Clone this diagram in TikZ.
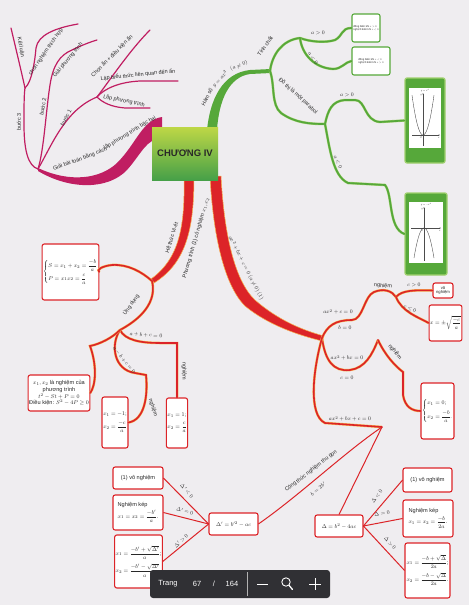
\documentclass[tikz,border=0pt]{standalone}
\usepackage{fontspec}
\setmainfont{Liberation Sans}
\usepackage{amsmath}
\usetikzlibrary{arrows.meta}
\definecolor{bgc}{RGB}{239,237,240}
\definecolor{magc}{RGB}{192,30,98}
\definecolor{redc}{RGB}{220,36,40}
\definecolor{halo}{RGB}{247,178,80}
\definecolor{grn}{RGB}{86,168,58}
\definecolor{grnl}{RGB}{160,208,110}
\definecolor{tbar}{RGB}{48,48,52}
\definecolor{txt}{RGB}{40,40,40}
\definecolor{gtop}{RGB}{190,215,70}
\definecolor{gbot}{RGB}{70,160,72}
\begin{document}
\begin{tikzpicture}[x=1pt,y=-1pt,
  mline/.style={draw=magc, line width=1.2pt, line cap=round},
  rline/.style={draw=redc, line width=1.6pt, line cap=round, preaction={draw=halo, line width=2.5pt}},
  gline/.style={draw=grn, line width=1.7pt, line cap=round, preaction={draw=grnl, line width=2.5pt}},
  tline/.style={draw=redc, line width=1pt},
  lab/.style={font=\fontsize{8}{9.6}\selectfont, scale=0.68, text=txt, inner sep=0.5pt},
  rbox/.style={draw=redc, line width=1.1pt, fill=white, rounded corners=2.2pt, inner sep=1.5pt, scale=0.7,
     font=\fontsize{8}{9.6}\selectfont, text=txt, align=center},
  gtbox/.style={draw=grn, line width=1.1pt, fill=white, rounded corners=2pt, inner sep=0pt},
  gfr/.style={draw=grnl, line width=1.2pt, fill=grn, rounded corners=2pt, inner sep=0pt},
  tiny/.style={font=\fontsize{8}{8.5}\selectfont, scale=0.33, inner sep=0pt, text=txt},
  tb/.style={font=\fontsize{7.5}{8}\selectfont, text=white, inner sep=0pt}]
\fill[bgc] (0,0) rectangle (469,605);
\useasboundingbox (0,0) rectangle (469,605);

% ---------------- boxes ----------------
\node[rbox, minimum width=1.43*41pt, minimum height=1.43*56pt] (sp) at (70.5,272)
  {$\left\{\begin{array}{@{}l@{}} S=x_1+x_2=\dfrac{-b}{a}\\[6pt] P=x_1x_2=\dfrac{c}{a}\end{array}\right.$};
\node[rbox, minimum width=1.43*58pt, minimum height=1.43*36pt] (xb) at (59,393)
  {$x_1,x_2$ là nghiệm của\\phương trình\\$t^2-St+P=0$\\Điều kiện: $S^2-4P\ge 0$};
\node[rbox, minimum width=1.43*26pt, minimum height=1.43*51pt, align=left] (mb1) at (115,422.5)
  {$x_1=-1;$\\[5pt]$x_2=\dfrac{-c}{a}$};
\node[rbox, minimum width=1.43*21pt, minimum height=1.43*50pt, align=left] (pb1) at (177,423)
  {$x_1=1;$\\[5pt]$x_2=\dfrac{c}{a}$};
\node[rbox, minimum width=1.43*20pt, minimum height=1.43*15pt, font=\fontsize{6}{6.4}\selectfont] (vn) at (443,290.5) {vô\\nghiệm};
\node[rbox, minimum width=1.43*25pt, minimum height=1.43*36pt] (sq) at (445.5,323) {$x=\pm\sqrt{\dfrac{-c}{a}}$};
\node[rbox, minimum width=1.43*31pt, minimum height=1.43*56pt] (x0) at (437.5,411)
  {$\left\{\begin{array}{@{}l@{}} x_1=0;\\[6pt] x_2=\dfrac{-b}{a}.\end{array}\right.$};
\node[rbox, minimum width=1.43*48pt, minimum height=1.43*22pt] (db) at (339,526) {$\Delta=b^2-4ac$};
\node[rbox, minimum width=1.43*49pt, minimum height=1.43*24pt] (d1) at (427.5,480) {(1) vô nghiệm};
\node[rbox, minimum width=1.43*50pt, minimum height=1.43*37pt, align=left] (d2) at (428,518.5)
  {Nghiệm kép\\[2pt]$x_1=x_2=\dfrac{-b}{2a}$.};
\node[rbox, minimum width=1.43*45pt, minimum height=1.43*55pt, align=left] (d3) at (427.5,570.5)
  {$x_1=\dfrac{-b+\sqrt{\Delta}}{2a}$;\\[5pt]$x_2=\dfrac{-b-\sqrt{\Delta}}{2a}$.};
\node[rbox, minimum width=1.43*49pt, minimum height=1.43*22pt] (dpb) at (233.5,524) {$\Delta'=b'^2-ac$};
\node[rbox, minimum width=1.43*50pt, minimum height=1.43*22pt] (q1) at (138,478) {(1) vô nghiệm};
\node[rbox, minimum width=1.43*50pt, minimum height=1.43*35pt, align=left] (q2) at (138,512.5)
  {Nghiệm kép\\[2pt]$x_1=x_2=\dfrac{-b'}{a}$.};
\node[rbox, minimum width=1.43*45pt, minimum height=1.43*53pt, align=left] (q3) at (138.5,561.5)
  {$x_1=\dfrac{-b'+\sqrt{\Delta'}}{a}$;\\[5pt]$x_2=\dfrac{-b'-\sqrt{\Delta'}}{a}$.};
\node[gtbox, minimum width=28pt, minimum height=28pt] (t1) at (366,28) {};
\node[tiny, align=left] (t1t) at (t1.center) {đồng biến khi $x>0$\\[2pt]nghịch biến khi $x<0$};
\node[gtbox, minimum width=38pt, minimum height=28pt] (t2) at (371,61) {};
\node[tiny, align=left] (t2t) at (t2.center) {đồng biến khi $x<0$\\[2pt]nghịch biến khi $x>0$};

% graph boxes
\node[gfr, minimum width=40pt, minimum height=85pt] (gb1) at (425,120.5) {};
\fill[white] (409,88) rectangle (441,148);
\draw[black!70, line width=0.3pt, -{Stealth[length=1.5pt]}] (412,135) -- (440,135);
\draw[black!70, line width=0.3pt, -{Stealth[length=1.5pt]}] (423,146) -- (423,93);
\draw[black!75, line width=0.35pt, domain=-11:11, samples=40, smooth] plot ({423+\x},{135-0.33*\x*\x});
\node[tiny] (g1a) at (425,90.5) {$y=x^2$};
\node[tiny] (g1b) at (421,95) {$y$};
\node[tiny] (g1c) at (439,138) {$x$};
\node[tiny] (g1d) at (421,138) {$O$};

\node[gfr, minimum width=42pt, minimum height=82pt] (gb2) at (426,234) {};
\fill[white] (409,202) rectangle (443,263);
\draw[black!70, line width=0.3pt, -{Stealth[length=1.5pt]}] (411,228) -- (441,228);
\draw[black!70, line width=0.3pt, -{Stealth[length=1.5pt]}] (424,261) -- (424,207);
\draw[black!75, line width=0.35pt, domain=-10:10, samples=40, smooth] plot ({424+\x},{228+0.3*\x*\x});
\node[tiny] (g2a) at (426,204.5) {$y=-x^2$};
\node[tiny] (g2b) at (422,209) {$y$};
\node[tiny] (g2c) at (440,231) {$x$};
\node[tiny] (g2d) at (422,231) {$O$};

% ---------------- magenta branch ----------------
\fill[magc] (162,117) .. controls (142,120) and (137,143) .. (117,163) .. controls (100,179) and (70,183) .. (38,168)
  -- (38,171) .. controls (70,190) and (108,190) .. (127,170) .. controls (142,153) and (146,139) .. (162,138) -- cycle;
\coordinate (m0) at (38,169);
\coordinate (m3) at (25,88);
\coordinate (m1) at (97,97);
\draw[mline] (m0) .. controls (28,166) and (24,150) .. (24,125) .. controls (24,105) and (24,95) .. (m3);
\draw[mline] (m3) .. controls (21,70) and (15,45) .. (11,28);
\draw[mline] (m3) .. controls (32,82) and (35,60) .. (36,48) .. controls (38,35) and (55,28) .. (78,24);
\draw[mline] (m0) .. controls (44,150) and (46,110) .. (50,85) .. controls (53,65) and (60,55) .. (72,50) .. controls (80,46) and (90,42) .. (97,40);
\draw[mline] (m0) .. controls (52,145) and (65,110) .. (m1);
\draw[mline] (m1) .. controls (110,80) and (130,50) .. (150,30);
\draw[mline] (m1) .. controls (105,88) and (120,82) .. (140,81) -- (178,81);
\draw[mline] (m1) .. controls (103,103) and (112,107) .. (125,108) -- (150,108);

\node[lab, rotate=20] (lg) at (80,159) {Giải bài toán bằng cách};
\node[lab, rotate=31] (lg2) at (130,133) {lập phương trình bậc hai};
\node[lab, rotate=90] (lb3) at (19,122) {bước 3};
\node[lab, rotate=-80] (lkl) at (21,47) {Kết luận};
\node[lab, rotate=55] (lcn) at (46,52) {chọn nghiệm thích hợp};
\node[lab, rotate=80] (lb2) at (43,107) {bước 2};
\node[lab, rotate=50] (lgpt) at (68,60) {Giải phương trình};
\node[lab, rotate=62] (lb1) at (66,118) {bước 1};
\node[lab, rotate=45] (lca) at (112,56) {Chọn ẩn + điều kiện ẩn};
\node[lab, rotate=6] (llb) at (138,75) {Lập biểu thức liên quan đến ẩn};
\node[lab, rotate=-12] (llp) at (124,101) {Lập phương trình};

% ---------------- green branch ----------------
\fill[grn] (207,130) .. controls (210,100) and (222,73) .. (250,70) -- (271,69) -- (271,73) -- (250,74)
  .. controls (229,77) and (219,100) .. (217,130) -- cycle;
\coordinate (g0) at (270,71);
\coordinate (gt) at (300,38);
\coordinate (gd) at (325,124);
\draw[gline] (g0) .. controls (272,55) and (282,40) .. (gt);
\draw[gline] (g0) .. controls (275,85) and (271,105) .. (281,113) .. controls (295,123) and (310,124) .. (gd);
\draw[gline] (gt) .. controls (310,42) and (326,43) .. (335,40) .. controls (343,36) and (341,28) .. (t1.west);
\draw[gline] (gt) .. controls (302,55) and (315,68) .. (333,69) .. controls (342,69) and (345,62) .. (t2.west);
\draw[gline] (gd) .. controls (328,110) and (332,101) .. (345,100) -- (355,100) .. controls (366,100) and (364,121) .. (380,122) -- (gb1.west);
\draw[gline] (gd) .. controls (330,150) and (333,176) .. (348,183) -- (385,185) .. controls (393,195) and (388,228) .. (gb2.west);

\node[lab, rotate=63] (lhs) at (207,97) {Hàm số};
\node[lab, rotate=47] (lhs2) at (220,79) {$y=ax^2$};
\node[lab, rotate=20] (lhs3) at (239,66) {$(a\neq 0)$};
\node[lab, rotate=55] (ltc) at (265,46) {Tính chất};
\node[lab, rotate=-42] (ldt) at (298,96) {Đồ thị là một parabol};
\node[lab] (la1) at (318,33) {$a>0$};
\node[lab, rotate=-55] (la2) at (313,58) {$a<0$};
\node[lab] (la3) at (347,95) {$a>0$};
\node[lab, rotate=-65] (la4) at (338,162) {$a<0$};

% ---------------- red branches ----------------
\fill[redc, draw=halo, line width=0.5pt] (184,176) -- (194,176) .. controls (194,225) and (188,262) .. (154,283)
  -- (151,279) .. controls (180,258) and (185,225) .. (184,176) -- cycle;
\coordinate (r1) at (152,281);
\coordinate (r2) at (120,330);
\draw[rline] (r1) .. controls (142,272) and (128,264) .. (112,265) .. controls (102,266) and (96,270) .. (sp.east);
\draw[rline] (r1) .. controls (156,297) and (148,315) .. (r2);
\draw[rline] (r2) .. controls (125,340) and (140,343) .. (160,343) -- (177,343) -- (pb1.north);
\draw[rline] (r2) .. controls (110,345) and (114,370) .. (135,373) -- (146,375) .. controls (148,395) and (145,420) .. (mb1.east);
\draw[rline] (r2) .. controls (112,338) and (100,344) .. (90,346) .. controls (97,365) and (96,385) .. (xb.east);

\node[lab, rotate=73] (lhv) at (172,238) {Hệ thức Vi-ét};
\node[lab, rotate=74] (lpt) at (196,238) {Phương trình (1) có nghiệm $x_1, x_2$};
\node[lab, rotate=55] (lud) at (131,305) {Ứng dụng};
\node[lab, rotate=-5] (lab1) at (146,335) {$a+b+c=0$};
\node[lab, rotate=-52] (lab2) at (124,360) {$a-b+c=0$};
\node[lab, rotate=-90] (ln1) at (184,371) {nghiệm};
\node[lab, rotate=-72] (ln2) at (153,408) {nghiệm};

\fill[redc, draw=halo, line width=0.5pt] (210,176) -- (221,176) .. controls (224,232) and (234,280) .. (255,300)
  .. controls (278,320) and (302,330) .. (324,336) -- (322,341) .. controls (298,335) and (268,325) .. (245,306)
  .. controls (224,285) and (213,235) .. (210,176) -- cycle;
\coordinate (r3) at (322,338);
\coordinate (n1) at (396,297);
\coordinate (n2) at (378,340);
\coordinate (n3) at (382,427);
\draw[rline] (r3) .. controls (327,326) and (335,320) .. (352,320) .. controls (363,320) and (364,296) .. (374,292) .. controls (384,288) and (392,291) .. (n1);
\draw[rline] (n1) .. controls (402,290) and (415,290) .. (vn.west);
\draw[rline] (n1) .. controls (402,312) and (418,317) .. (sq.west);
\draw[rline] (r3) .. controls (325,360) and (333,372) .. (350,370) .. controls (365,368) and (372,355) .. (n2);
\draw[rline] (n2) .. controls (385,355) and (395,366) .. (403,372) -- (403,395) .. controls (405,407) and (412,411) .. (x0.west);
\draw[rline] (r3) .. controls (313,370) and (308,415) .. (325,423) -- (n3);
\draw[tline] (n3) -- (db.north);
\draw[tline] (n3) .. controls (345,452) and (300,495) .. (dpb.east);
\draw[tline] (db.east) -- (d1.west);
\draw[tline] (db.east) -- (d2.west);
\draw[tline] (db.east) -- (d3.west);
\draw[tline] (dpb.west) -- (q1.east);
\draw[tline] (dpb.west) -- (q2.east);
\draw[tline] (dpb.west) -- (q3.east);

\node[lab, rotate=-63] (lpt1) at (246,268) {$ax^2+bx+c=0\ (a\neq0)\ (1)$};
\node[lab] (lc1) at (338,312) {$ax^2+c=0$};
\node[lab] (lb0) at (345,328) {$b=0$};
\node[lab, rotate=-5] (ln3) at (383,286) {nghiệm};
\node[lab] (lcg) at (414,285) {$c>0$};
\node[lab, rotate=-25] (lcl) at (410,309) {$c\le 0$};
\node[lab] (lbx) at (347,358) {$ax^2+bx=0$};
\node[lab] (lc0) at (347,378) {$c=0$};
\node[lab, rotate=-50] (ln4) at (395,352) {nghiệm};
\node[lab] (lfull) at (350,419) {$ax^2+bx+c=0$};
\node[lab, rotate=38] (lct) at (311,471) {Công thức nghiệm thu gọn};
\node[lab, rotate=38] (lbb) at (318,489) {$b=2b'$};
\node[lab, rotate=55] (ldl) at (377,496) {$\Delta<0$};
\node[lab, rotate=10] (lde) at (382,513) {$\Delta=0$};
\node[lab, rotate=-50] (ldg) at (390,543) {$\Delta>0$};
\node[lab, rotate=-50] (lpl) at (187,491) {$\Delta'<0$};
\node[lab, rotate=-15] (lpe) at (185,511) {$\Delta'=0$};
\node[lab, rotate=45] (lpg) at (181,541) {$\Delta'>0$};

% ---------------- centre ----------------
\node[top color=gtop, bottom color=gbot, minimum width=66pt, minimum height=53pt, inner sep=0,
  font=\fontsize{9.5}{10}\selectfont\bfseries, text=txt] (ch) at (185,153.5) {CHƯƠNG IV};

% ---------------- toolbar ----------------
\node[fill=tbar, rounded corners=3pt, minimum width=180pt, minimum height=28pt, inner sep=0] (bar) at (240,584) {};
\node[tb] (trg) at (168,584) {Trang};
\node[tb] (tpg) at (197,584) {67};
\node[tb] (tsl) at (214,584) {/};
\node[tb] (tnb) at (232,584) {164};
\draw[gray!60, line width=0.4pt] (247,572) -- (247,596);
\draw[white, line width=0.8pt] (257,584) -- (268,584);
\draw[white, line width=0.9pt] (286,582) circle[radius=4.2pt];
\draw[white, line width=1.3pt, line cap=round] (289.2,585.5) -- (292.5,589.5);
\draw[white, line width=0.9pt] (309,584) -- (321,584) (315,578) -- (315,590);
\end{tikzpicture}
\end{document}
